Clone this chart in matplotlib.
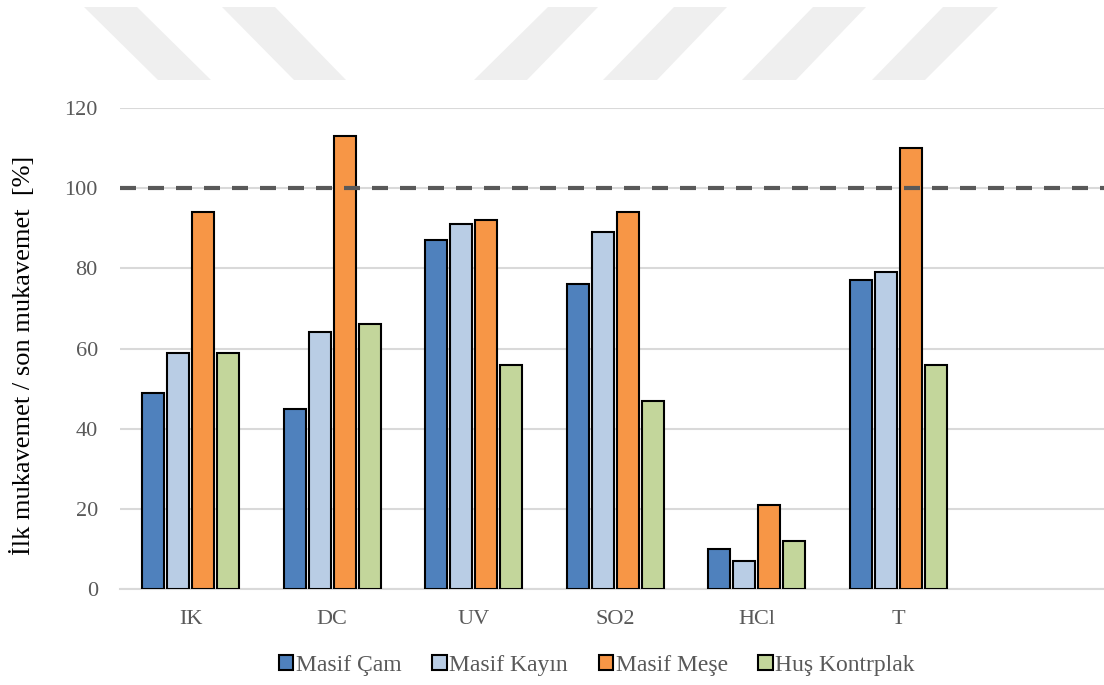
import numpy as np
import matplotlib.pyplot as plt
from matplotlib.patches import Polygon

categories = ['IK', 'DC', 'UV', 'SO2', 'HCl', 'T']
series_names = ['Masif Çam', 'Masif Kayın', 'Masif Meşe', 'Huş Kontrplak']
masif_cam = [49, 45, 87, 76, 10, 77]
masif_kayin = [59, 64, 91, 89, 7, 79]
masif_mese = [94, 113, 92, 94, 21, 110]
hus_kontrplak = [59, 66, 56, 47, 12, 56]
reference_level = 100
y_ticks = [0, 20, 40, 60, 80, 100, 120]

colors = ['#4F81BD', '#B9CDE5', '#F79646', '#C3D69B']
plt.rcParams['font.family'] = ['Liberation Serif', 'DejaVu Serif']

W, H = 1104, 685
fig = plt.figure(figsize=(W / 100, H / 100), dpi=100)

# soluk filigran şeritleri (arka plan), piksel olarak: üst sol, üst sağ, alt sağ, alt sol
stripes = [
    (84, 137, 211, 158),
    (222, 275, 346, 294),
    (548, 598, 527, 474),
    (674, 727, 657, 603),
    (813, 866, 796, 742),
    (943, 998, 925, 872),
]
top_y, bot_y = 7, 80
for tl, tr, br, bl in stripes:
    pts = [(tl, top_y), (tr, top_y), (br, bot_y), (bl, bot_y)]
    pts = [(px / W, 1 - py / H) for px, py in pts]
    fig.patches.append(Polygon(pts, closed=True, transform=fig.transFigure,
                               facecolor='#EFEFEF', edgecolor='none', zorder=0))

ax = fig.add_axes([120 / W, (H - 589) / H, 990.5 / W, (589 - 108) / H])
ax.set_zorder(1)
ax.patch.set_alpha(0)

x = np.arange(len(categories))
width = 22 / 141.5
step = 25 / 141.5
data = [masif_cam, masif_kayin, masif_mese, hus_kontrplak]
for i, vals in enumerate(data):
    ax.bar(x + (i - 1.5) * step, vals, width, color=colors[i], edgecolor='black',
           linewidth=1.5, label=series_names[i], zorder=3)

ax.axhline(reference_level, color='#595959', linestyle=(0, (3.84, 2.88)), linewidth=3, zorder=4)

ax.set_xlim(-0.5, 6.5)
ax.set_ylim(0, 120)
ax.set_yticks(y_ticks)
ax.set_xticks(x)
ax.set_xticklabels(categories)
ax.tick_params(axis='both', length=0, labelsize=16, labelcolor='#595959')
ax.tick_params(axis='x', pad=15)
ax.tick_params(axis='y', pad=16)
ax.grid(axis='y', color='#D9D9D9', linewidth=1.5, zorder=0)
for s in ['top', 'right', 'left']:
    ax.spines[s].set_visible(False)
ax.spines['bottom'].set_color('#D9D9D9')
ax.spines['bottom'].set_linewidth(1.5)

ax.set_ylabel('İlk mukavemet / son mukavemet  [%]', fontsize=19)
ax.yaxis.set_label_coords((35 - 120) / 990.5, 0.486)

leg = fig.legend(loc='center', bbox_to_anchor=(597 / W, (H - 665) / H), ncol=4,
                 frameon=False, fontsize=17, handlelength=0.6, handleheight=0.6,
                 handletextpad=0.12, columnspacing=1.3)
for t in leg.get_texts():
    t.set_color('#595959')
for h in leg.legend_handles:
    h.set_linewidth(1.5)

fig.savefig('out.png', dpi=100)
